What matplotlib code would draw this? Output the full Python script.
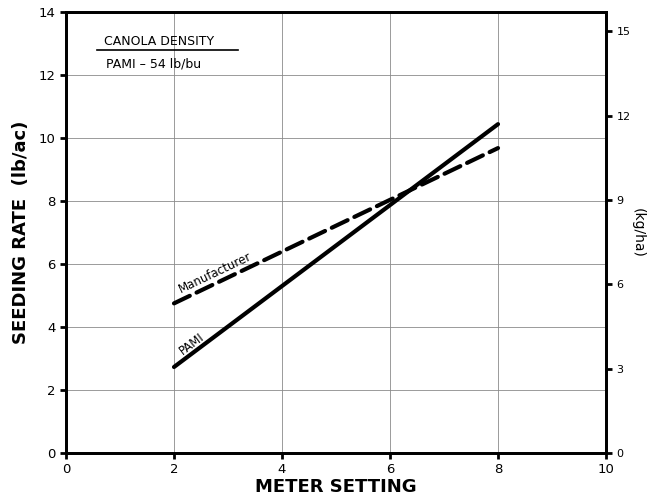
import matplotlib.pyplot as plt
import numpy as np

# Meter setting vs seeding rate (lb/ac)
meter = [2, 8]
pami_rate = [2.73, 10.44]
manuf_rate = [4.75, 9.68]

LB_AC_TO_KG_HA = 1.1209

fig = plt.figure(figsize=(6.58, 5.0), dpi=100)
ax = fig.add_axes([0.1003, 0.094, 0.8207, 0.882])

ax.plot(meter, pami_rate, color='black', linewidth=3, solid_capstyle='round')
ax.plot(meter, manuf_rate, color='black', linewidth=3, linestyle=(0, (4.2, 1.8)),
        dash_capstyle='round')

ax.set_xlim(0, 10)
ax.set_ylim(0, 14)
ax.set_xticks(np.arange(0, 11, 2))
ax.set_yticks(np.arange(0, 15, 2))
ax.grid(True, color='#8a8a8a', linewidth=0.6)
ax.set_axisbelow(True)

for s in ax.spines.values():
    s.set_linewidth(2)
ax.tick_params(direction='out', length=4, width=2, labelsize=9.5)

ax.set_xlabel('METER SETTING', fontsize=13, fontweight='bold', labelpad=1)
ax.set_ylabel('SEEDING RATE  (lb/ac)', fontsize=13, fontweight='bold', labelpad=6)

# right axis in kg/ha
ax2 = ax.twinx()
ax2.set_ylim(0, 14 * LB_AC_TO_KG_HA)
ax2.set_yticks(np.arange(0, 16, 3))
ax2.tick_params(direction='out', length=4, width=2, labelsize=8)
for s in ax2.spines.values():
    s.set_linewidth(2)
ax2.set_ylabel('(kg/ha)', fontsize=10, rotation=-90, labelpad=10)

# line labels
ax.text(2.76, 5.72, 'Manufacturer', fontsize=8.5, rotation=25.5,
        ha='center', va='center', rotation_mode='anchor')
ax.text(2.33, 3.48, 'PAMI', fontsize=8.5, rotation=37,
        ha='center', va='center', rotation_mode='anchor')

# title box
ax.text(0.70, 13.05, 'CANOLA DENSITY', fontsize=9, va='center', ha='left')
ax.plot([0.57, 3.19], [12.78, 12.78], color='black', linewidth=1.2)
ax.text(0.74, 12.35, 'PAMI – 54 lb/bu', fontsize=9, va='center', ha='left')

fig.savefig('out.png', dpi=100)
